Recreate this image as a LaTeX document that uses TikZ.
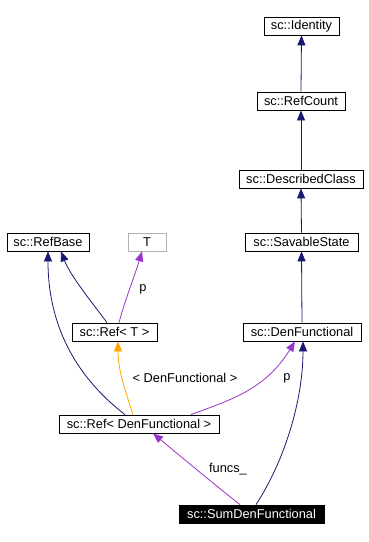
\documentclass[tikz,border=0pt]{standalone}
\usepackage{fontspec}
\setmainfont{Liberation Sans}
\usetikzlibrary{arrows.meta}
\definecolor{navyc}{HTML}{191970}
\definecolor{purc}{HTML}{9A32CD}
\definecolor{orac}{HTML}{FFA500}
\begin{document}
\begin{tikzpicture}[x=1pt,y=-1pt,
  cls/.style={draw=black, line width=0.8pt, rectangle, minimum height=18pt, inner sep=0pt, font=\fontsize{12.8}{14}\selectfont, text=black, fill=white},
  edge/.style={line width=0.8pt, -{Triangle[length=10pt,width=8pt]}},
  lbl/.style={font=\fontsize{12.8}{14}\selectfont, text=black, inner sep=0pt}]
\useasboundingbox (0,0) rectangle (369,542);
\node[cls, minimum width=75pt] (id) at (301.5,26) {sc::Identity};
\node[cls, minimum width=88pt] (rc) at (301,101) {sc::RefCount};
\node[cls, minimum width=124pt] (dc) at (301,179) {sc::DescribedClass};
\node[cls, minimum width=113pt] (ss) at (301.5,242) {sc::SavableState};
\node[cls, minimum width=82pt] (rb) at (48,242) {sc::RefBase};
\node[cls, draw=gray!60, minimum width=38pt] (t) at (147,242) {T};
\node[cls, minimum width=85pt] (rt) at (114.5,332) {sc::Ref< T >};
\node[cls, minimum width=118pt] (df) at (302,332) {sc::DenFunctional};
\node[cls, minimum width=160pt] (rdf) at (139,424) {sc::Ref< DenFunctional >};
\node[cls, fill=black, text=white, minimum width=145pt] (sdf) at (251.5,514) {sc::SumDenFunctional};

\draw[edge, navyc] (rc.north) -- (id.south);
\draw[edge, navyc] (dc.north) -- (rc.south);
\draw[edge, navyc] (ss.north) -- (dc.south);
\draw[edge, navyc] (df.north) -- (ss.south);

\draw[edge, navyc] ([xshift=-7.5pt]rt.north) .. controls (90,300) and (70,275) .. ([xshift=13pt]rb.south);
\draw[edge, purc] ([xshift=4.5pt]rt.north) .. controls (125,300) and (135,275) .. ([xshift=-5pt]t.south);
\node[lbl] (lp1) at (143,289) {p};

\draw[edge, navyc] ([xshift=-14pt]rdf.north) .. controls (80,380) and (48,330) .. (rb.south);
\draw[edge, orac] ([xshift=-6pt]rdf.north) .. controls (125,390) and (118,370) .. ([xshift=3.5pt]rt.south);
\node[lbl] (lrt) at (185,378) {< DenFunctional >};
\draw[edge, purc] ([xshift=52pt]rdf.north) .. controls (230,400) and (265,390) .. ([xshift=-7pt]df.south);
\node[lbl] (lp2) at (287,378) {p};

\draw[edge, purc] ([xshift=-11.5pt]sdf.north) .. controls (215,485) and (185,460) .. ([xshift=14pt]rdf.south);
\node[lbl] (lf) at (228,469) {funcs\_};
\draw[edge, navyc] ([xshift=4.5pt]sdf.north) .. controls (285,460) and (303,400) .. ([xshift=1pt]df.south);
\end{tikzpicture}
\end{document}
